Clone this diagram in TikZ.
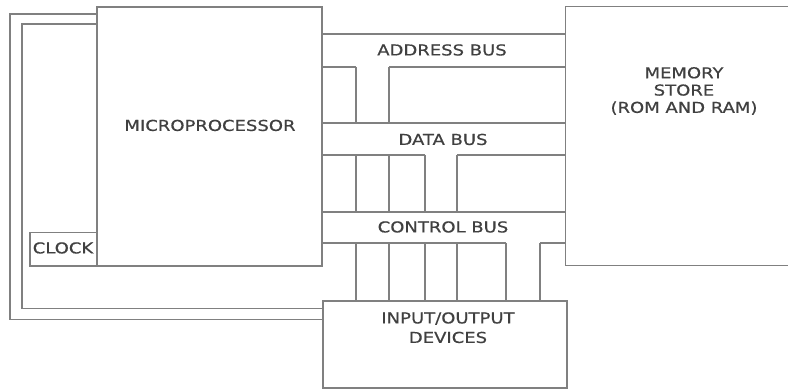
\documentclass[tikz,border=0pt]{standalone}
\usepackage{fontspec}
\newfontfamily\lblfont{DejaVu Sans}[FakeStretch=1.2,FakeBold=0.6]
\begin{document}
\begin{tikzpicture}[x=1pt,y=-1pt,
  ln/.style={draw=black!50,line width=1.4pt},
  box/.style={ln,rectangle,inner sep=0pt,outer sep=0pt},
  lbl/.style={text=black!75,inner sep=0pt,align=center,
    font=\lblfont\fontsize{15}{17.3}\selectfont,text height=10.8pt,text depth=0pt}]
\useasboundingbox (0,0) rectangle (788,390);
% boxes
\node[box,minimum width=225pt,minimum height=259pt] (mp) at (209.5,136.5) {};
\node[box,minimum width=67pt,minimum height=33.5pt] (clk) at (63.5,249.25) {};
\node[box,minimum width=244pt,minimum height=87pt] (io) at (445,344.5) {};
\coordinate (memNW) at (565.5,6.5);
\coordinate (memSW) at (565.5,265.5);
\draw[ln] (788,6.5) -- (memNW) -- (memSW) -- (788,265.5);
% labels
\node[lbl] (mpl) at (210,125.5) {MICROPROCESSOR};
\node[lbl] (clkl) at (63,248) {CLOCK};
\node[lbl,text depth=34.6pt] (meml) at (684,124.75) {MEMORY\\STORE\\(ROM AND RAM)};
\node[lbl,font=\lblfont\fontsize{15}{19.5}\selectfont,text depth=19.5pt] (iol) at (448,347.25) {INPUT/OUTPUT\\DEVICES};
\node[lbl] (ab) at (442,50) {ADDRESS BUS};
\node[lbl] (db) at (443,139.5) {DATA BUS};
\node[lbl] (cb) at (443,227) {CONTROL BUS};
% clock loops
\draw[ln] (mp.west |- 0,14) -| (10,319.5) -- (io.west |- 0,319.5);
\draw[ln] (mp.west |- 0,24) -| (22,308.5) -- (io.west |- 0,308.5);
% bus horizontals
\draw[ln] (mp.east |- 0,34) -- (memNW |- 0,34);
\draw[ln] (mp.east |- 0,67) -- (356,67);
\draw[ln] (389,67) -- (memNW |- 0,67);
\draw[ln] (mp.east |- 0,123) -- (memNW |- 0,123);
\draw[ln] (mp.east |- 0,155) -- (425,155);
\draw[ln] (457,155) -- (memNW |- 0,155);
\draw[ln] (mp.east |- 0,212) -- (memNW |- 0,212);
\draw[ln] (mp.east |- 0,243) -- (506,243);
\draw[ln] (540,243) -- (memNW |- 0,243);
% verticals
\foreach \x in {356,389}{
  \draw[ln] (\x,67) -- (\x,123);
}
\foreach \x in {356,389,425,457}{
  \draw[ln] (\x,155) -- (\x,212);
}
\foreach \x in {356,389,425,457,506,540}{
  \draw[ln] (\x,243) -- (io.north -| \x,0);
}
\end{tikzpicture}
\end{document}
